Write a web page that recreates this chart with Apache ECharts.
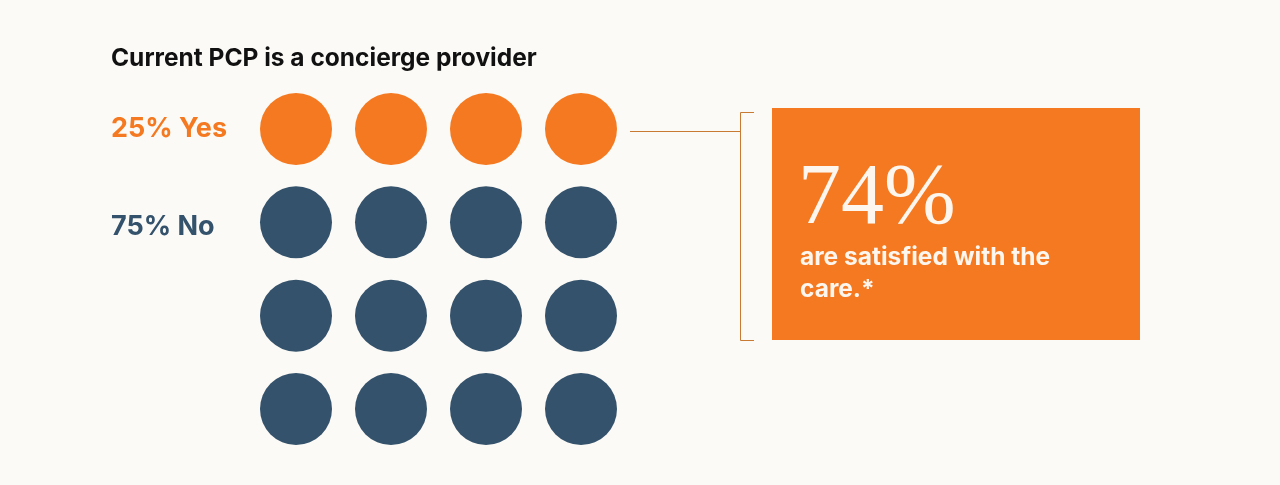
<!DOCTYPE html>
<html>
<head>
<meta charset="utf-8">
<script src="https://cdn.jsdelivr.net/npm/echarts@6/dist/echarts.min.js"></script>
<style>
  html, body { margin: 0; padding: 0; background: #fcfaf6; }
  #chart { width: 1280px; height: 485px; }
</style>
</head>
<body>
<div id="chart"></div>
<script>
// answers to "Current PCP is a concierge provider"
const answers = ['Yes', 'No'];
const shares = [25, 75];
const answerColors = ['#f47920', '#34526b'];
const dotsPerRow = 4;
const totalDots = 16;

// call-out
const calloutValue = '74%';
const calloutText = ['are satisfied with the', 'care.*'];

const rowCount = totalDots / dotsPerRow;
const rowLabels = [];
for (let r = 0; r < rowCount; r++) rowLabels.push('');

// one row of dots per 25%, fill rows in answer order
const series = [];
let dotIndex = 0;
answers.forEach(function (name, i) {
  const n = Math.round(totalDots * shares[i] / 100);
  const points = [];
  for (let k = 0; k < n; k++) {
    points.push([dotIndex % dotsPerRow, Math.floor(dotIndex / dotsPerRow)]);
    dotIndex++;
  }
  // the label sits on the first row of each answer
  rowLabels[points[0][1]] = shares[i] + '% ' + name + '|' + i;
  series.push({
    name: name,
    type: 'scatter',
    symbol: 'circle',
    symbolSize: 72,
    itemStyle: { color: answerColors[i], opacity: 1 },
    emphasis: { disabled: true },
    data: points
  });
});

const myChart = echarts.init(document.getElementById('chart'));

const option = {
  backgroundColor: '#fcfaf6',
  animation: false,
  title: {
    text: 'Current PCP is a concierge provider',
    left: 106,
    top: 41,
    textStyle: { fontFamily: 'Inter', fontSize: 24.5, fontWeight: 'bold', color: '#111111' }
  },
  grid: { left: 296, right: 699, top: 129, bottom: 76 },
  xAxis: {
    type: 'value', min: 0, max: dotsPerRow - 1,
    show: false
  },
  yAxis: {
    type: 'category',
    inverse: true,
    boundaryGap: false,
    data: rowLabels.map(function (v, i) { return i; }),
    axisLine: { show: false },
    axisTick: { show: false },
    splitLine: { show: false },
    axisLabel: {
      align: 'left',
      margin: 185,
      formatter: function (v) {
        const s = rowLabels[v];
        if (!s) return '';
        const parts = s.split('|');
        return '{c' + parts[1] + '|' + parts[0] + '}';
      },
      rich: {
        c0: { fontFamily: 'Inter', fontSize: 27, fontWeight: 'bold', color: answerColors[0] },
        c1: { fontFamily: 'Inter', fontSize: 27, fontWeight: 'bold', color: answerColors[1], padding: [10, 0, 0, 0] }
      }
    }
  },
  series: series,
  graphic: [
    {
      type: 'line',
      shape: { x1: 630, y1: 131.5, x2: 740, y2: 131.5 },
      style: { stroke: '#c97a32', lineWidth: 1 }
    },
    {
      type: 'polyline',
      shape: { points: [[754, 112.5], [740.5, 112.5], [740.5, 340.5], [754, 340.5]] },
      style: { stroke: '#c97a32', lineWidth: 1, fill: null }
    },
    {
      type: 'rect',
      shape: { x: 772, y: 108, width: 368, height: 232 },
      style: { fill: '#f47920' }
    },
    {
      type: 'text',
      x: 798, y: 157,
      style: {
        text: calloutValue,
        fill: '#fdf6ee',
        font: '86px "Liberation Serif", "DejaVu Serif", serif'
      }
    },
    {
      type: 'text',
      x: 800, y: 242,
      style: {
        text: calloutText.join('\n'),
        fill: '#fdf6ee',
        lineHeight: 32,
        font: 'bold 24.5px Inter, sans-serif'
      }
    }
  ]
};

option && myChart.setOption(option);
</script>
</body>
</html>
